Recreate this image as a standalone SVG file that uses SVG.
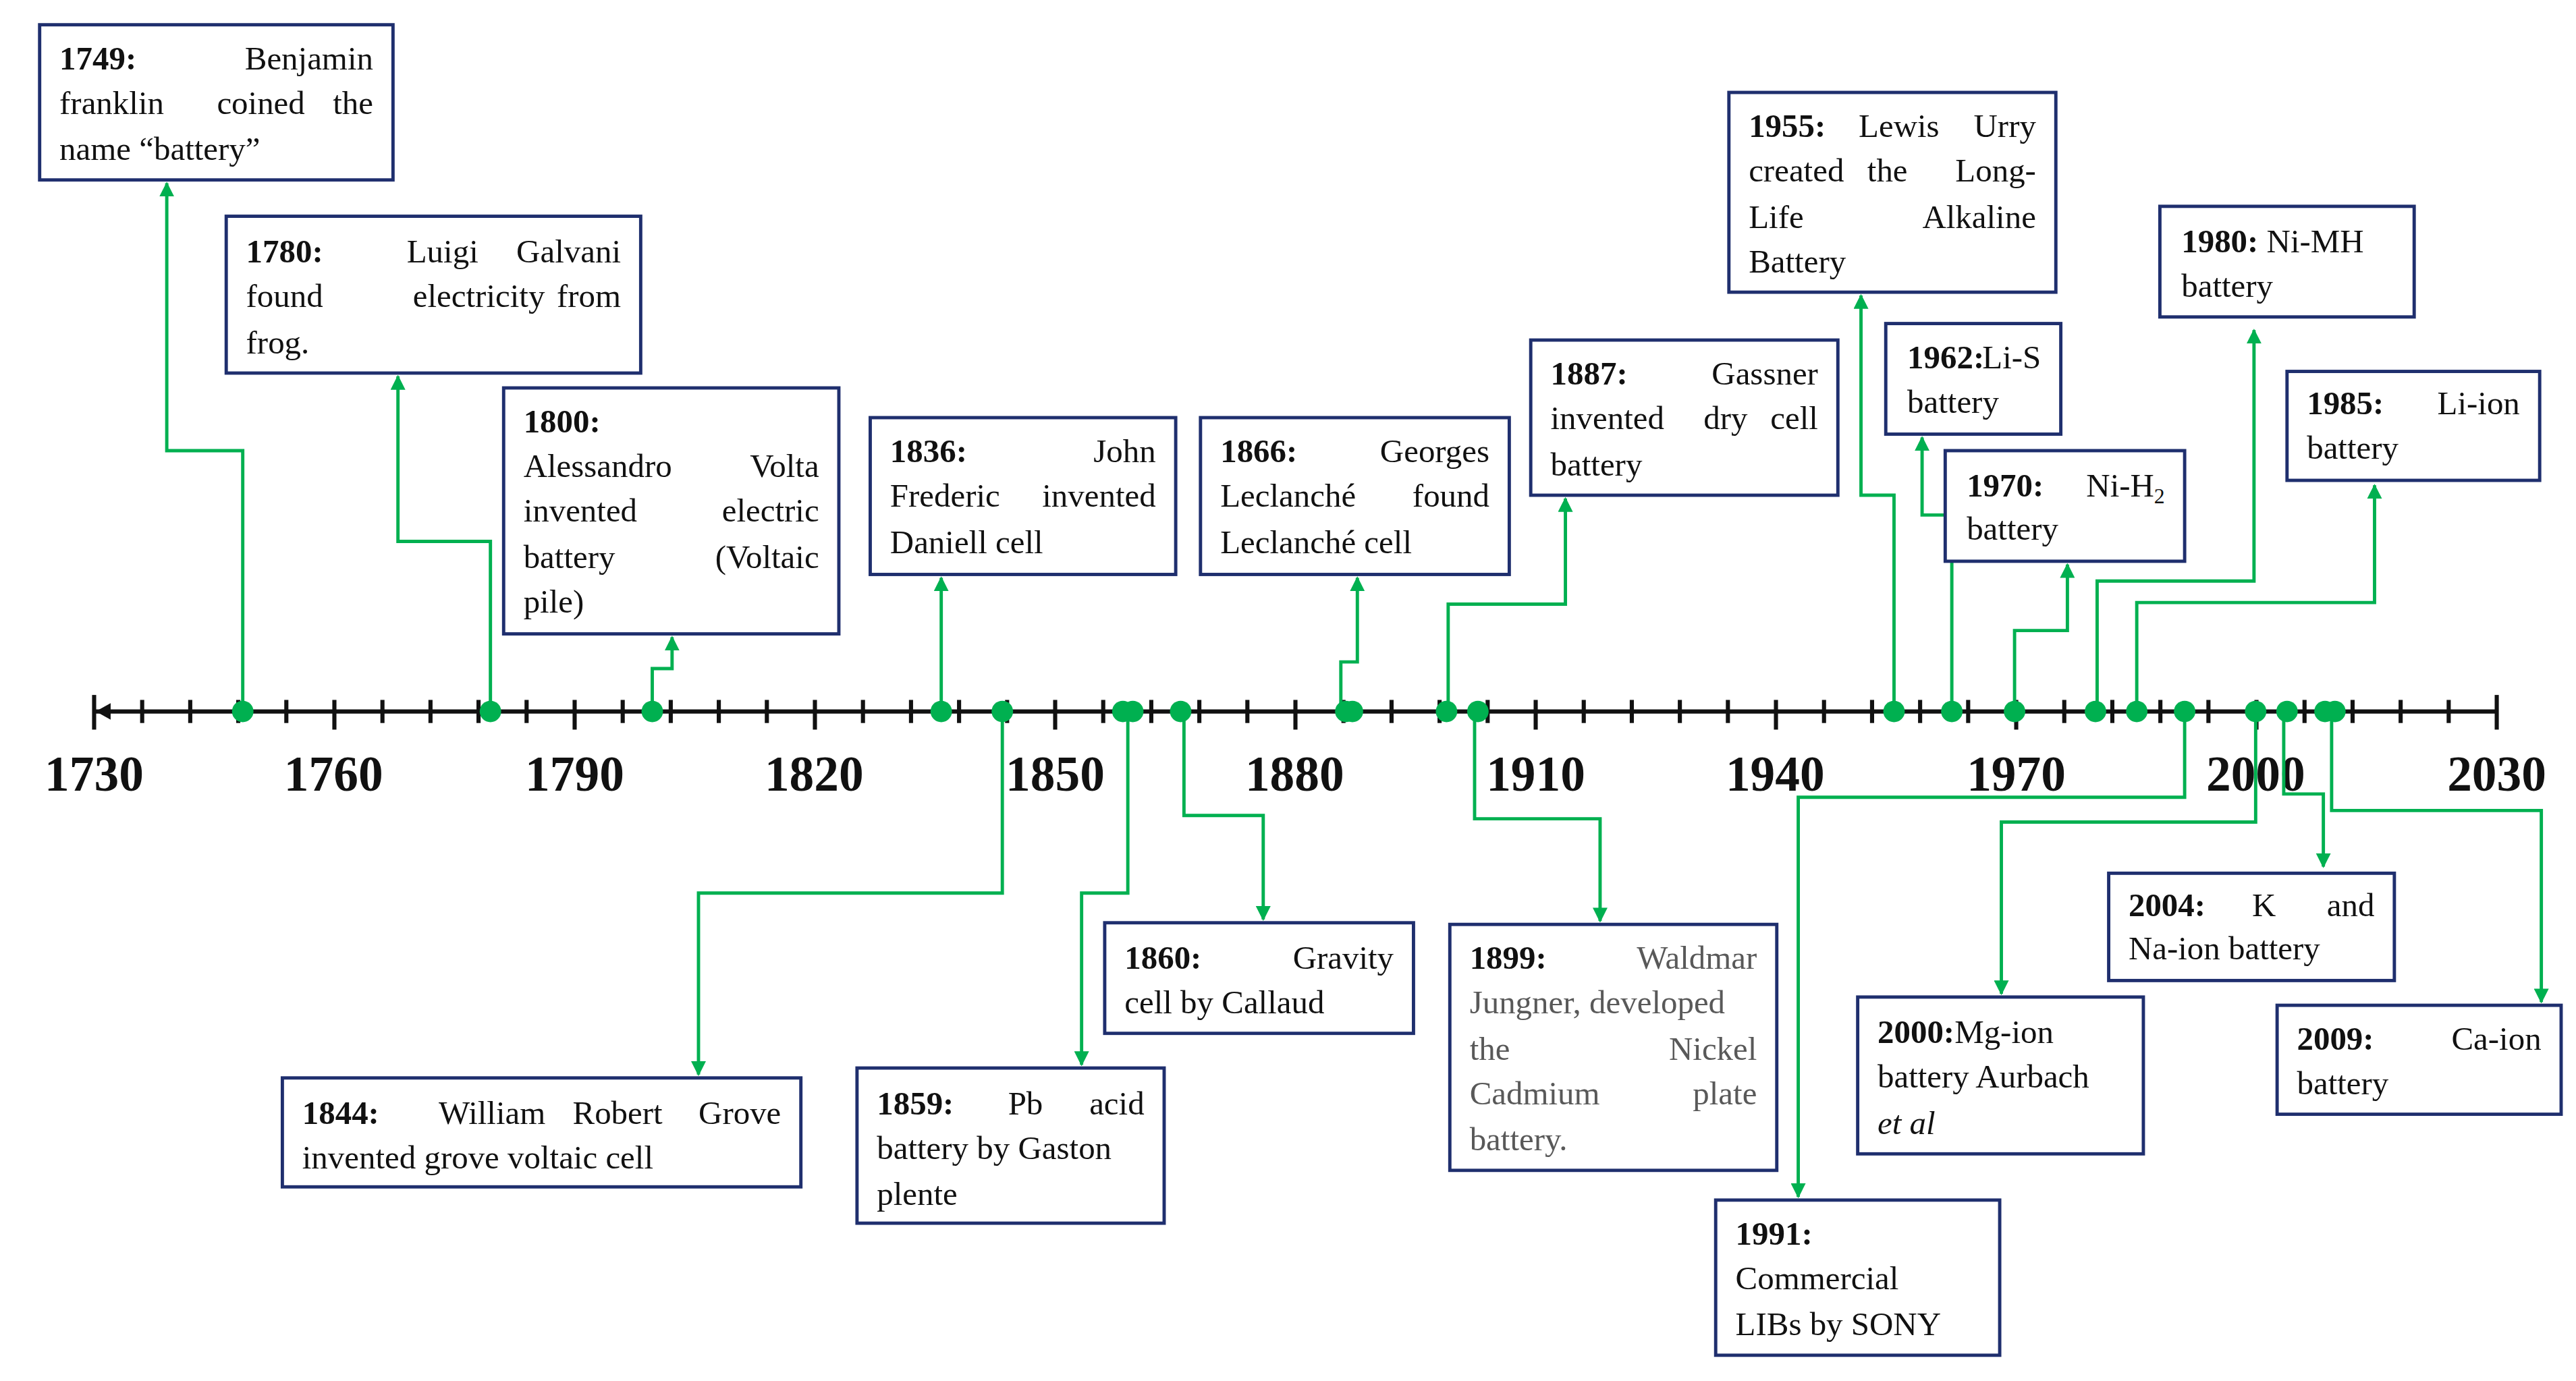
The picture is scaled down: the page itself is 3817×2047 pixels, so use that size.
<svg xmlns="http://www.w3.org/2000/svg" width="3817" height="2047" viewBox="0 0 3817 2047">
<style>
.box{fill:#fff;stroke:#1f2f6e;stroke-width:2}
text{font-family:"Liberation Serif","Times New Roman",serif;font-size:20px;fill:#111}
.b{font-weight:bold}
.e{text-anchor:end}
.m{text-anchor:middle}
.g{fill:#595959}
.yr{font-size:30px;font-weight:bold;text-anchor:middle}
.c{fill:none;stroke:#00b050;stroke-width:2;marker-end:url(#ah)}
.dot{fill:#00b050}
.tk{stroke:#111;stroke-width:2.5}
</style>
<defs>
<marker id="ah" viewBox="0 0 10 10" refX="9" refY="5" markerWidth="9" markerHeight="9" markerUnits="userSpaceOnUse" orient="auto"><path d="M0,0 L10,5 L0,10 z" fill="#00b050"/></marker>
</defs>
<rect width="3817" height="2047" fill="#fff"/>
<g transform="scale(2.4468)">
<g id="axis">
<line x1="57" y1="431" x2="1512" y2="431" class="tk" stroke-width="3"/>
<path d="M58,431 l9,-5 v10 z" fill="#111"/>
<line x1="57" y1="421" x2="57" y2="442" class="tk"/>
<line x1="1512" y1="421" x2="1512" y2="442" class="tk"/>
<g class="tk">
<line x1="86.1" y1="424" x2="86.1" y2="438"/><line x1="115.2" y1="424" x2="115.2" y2="438"/><line x1="144.3" y1="424" x2="144.3" y2="438"/><line x1="173.4" y1="424" x2="173.4" y2="438"/><line x1="202.5" y1="424" x2="202.5" y2="442"/>
<line x1="231.6" y1="424" x2="231.6" y2="438"/><line x1="260.7" y1="424" x2="260.7" y2="438"/><line x1="289.8" y1="424" x2="289.8" y2="438"/><line x1="318.9" y1="424" x2="318.9" y2="438"/><line x1="348" y1="424" x2="348" y2="442"/>
<line x1="377.1" y1="424" x2="377.1" y2="438"/><line x1="406.2" y1="424" x2="406.2" y2="438"/><line x1="435.3" y1="424" x2="435.3" y2="438"/><line x1="464.4" y1="424" x2="464.4" y2="438"/><line x1="493.5" y1="424" x2="493.5" y2="442"/>
<line x1="522.6" y1="424" x2="522.6" y2="438"/><line x1="551.7" y1="424" x2="551.7" y2="438"/><line x1="580.8" y1="424" x2="580.8" y2="438"/><line x1="609.9" y1="424" x2="609.9" y2="438"/><line x1="639" y1="424" x2="639" y2="442"/>
<line x1="668.1" y1="424" x2="668.1" y2="438"/><line x1="697.2" y1="424" x2="697.2" y2="438"/><line x1="726.3" y1="424" x2="726.3" y2="438"/><line x1="755.4" y1="424" x2="755.4" y2="438"/><line x1="784.5" y1="424" x2="784.5" y2="442"/>
<line x1="813.6" y1="424" x2="813.6" y2="438"/><line x1="842.7" y1="424" x2="842.7" y2="438"/><line x1="871.8" y1="424" x2="871.8" y2="438"/><line x1="900.9" y1="424" x2="900.9" y2="438"/><line x1="930" y1="424" x2="930" y2="442"/>
<line x1="959.1" y1="424" x2="959.1" y2="438"/><line x1="988.2" y1="424" x2="988.2" y2="438"/><line x1="1017.3" y1="424" x2="1017.3" y2="438"/><line x1="1046.4" y1="424" x2="1046.4" y2="438"/><line x1="1075.5" y1="424" x2="1075.5" y2="442"/>
<line x1="1104.6" y1="424" x2="1104.6" y2="438"/><line x1="1133.7" y1="424" x2="1133.7" y2="438"/><line x1="1162.8" y1="424" x2="1162.8" y2="438"/><line x1="1191.9" y1="424" x2="1191.9" y2="438"/><line x1="1221" y1="424" x2="1221" y2="442"/>
<line x1="1250.1" y1="424" x2="1250.1" y2="438"/><line x1="1279.2" y1="424" x2="1279.2" y2="438"/><line x1="1308.3" y1="424" x2="1308.3" y2="438"/><line x1="1337.4" y1="424" x2="1337.4" y2="438"/><line x1="1366.5" y1="424" x2="1366.5" y2="442"/>
<line x1="1395.6" y1="424" x2="1395.6" y2="438"/><line x1="1424.7" y1="424" x2="1424.7" y2="438"/><line x1="1453.8" y1="424" x2="1453.8" y2="438"/><line x1="1482.9" y1="424" x2="1482.9" y2="438"/>
</g>
<text class="yr" x="57" y="479">1730</text><text class="yr" x="202" y="479">1760</text><text class="yr" x="348" y="479">1790</text><text class="yr" x="493" y="479">1820</text><text class="yr" x="639" y="479">1850</text><text class="yr" x="784" y="479">1880</text><text class="yr" x="930" y="479">1910</text><text class="yr" x="1075" y="479">1940</text><text class="yr" x="1221" y="479">1970</text><text class="yr" x="1366" y="479">2000</text><text class="yr" x="1512" y="479">2030</text>
</g>
<g id="connectors">
<path class="c" d="M147,431 V273 H101 V111"/>
<path class="c" d="M297,431 V328 H241 V228"/>
<path class="c" d="M395,431 V405 H407 V386"/>
<path class="c" d="M570,431 V350"/>
<path class="c" d="M812,431 V401 H822 V350"/>
<path class="c" d="M877,431 V366 H948 V302"/>
<path class="c" d="M1147,431 V300 H1127 V179"/>
<path class="c" d="M1182,431 V312 H1164 V265"/>
<path class="c" d="M1220,431 V382 H1252 V342"/>
<path class="c" d="M1270,431 V352 H1365 V200"/>
<path class="c" d="M1294,431 V365 H1438 V294"/>
<path class="c" d="M607,431 V541 H423 V651"/>
<path class="c" d="M683,431 V541 H655 V645"/>
<path class="c" d="M717,431 V494 H765 V557"/>
<path class="c" d="M893,431 V496 H969 V558"/>
<path class="c" d="M1323,431 V483 H1089 V725"/>
<path class="c" d="M1366,431 V498 H1212 V602"/>
<path class="c" d="M1383,431 V481 H1407 V525"/>
<path class="c" d="M1412,431 V491 H1539 V607"/>
<g class="dot">
<circle cx="147" cy="431" r="6.5"/><circle cx="297" cy="431" r="6.5"/><circle cx="395" cy="431" r="6.5"/><circle cx="570" cy="431" r="6.5"/><circle cx="607" cy="431" r="6.5"/><circle cx="680" cy="431" r="6.5"/><circle cx="686" cy="431" r="6.5"/><circle cx="715" cy="431" r="6.5"/><circle cx="815" cy="431" r="6.5"/><circle cx="819" cy="431" r="6.5"/><circle cx="876" cy="431" r="6.5"/><circle cx="895" cy="431" r="6.5"/><circle cx="1147" cy="431" r="6.5"/><circle cx="1182" cy="431" r="6.5"/><circle cx="1220" cy="431" r="6.5"/><circle cx="1269" cy="431" r="6.5"/><circle cx="1294" cy="431" r="6.5"/><circle cx="1323" cy="431" r="6.5"/><circle cx="1366" cy="431" r="6.5"/><circle cx="1385" cy="431" r="6.5"/><circle cx="1408" cy="431" r="6.5"/><circle cx="1414" cy="431" r="6.5"/>
</g>
</g>
<g id="n1749"><rect class="box" x="24" y="15" width="214" height="94"/>
<text class="b" x="36" y="42">1749:</text><text class="e" x="226" y="42">Benjamin</text>
<text x="36" y="69">franklin</text><text class="m" x="158" y="69">coined</text><text class="e" x="226" y="69">the</text>
<text x="36" y="97">name “battery”</text></g>
<g id="n1780"><rect class="box" x="137" y="131" width="251" height="95"/>
<text class="b" x="149" y="159">1780:</text><text class="m" x="268" y="159">Luigi</text><text class="e" x="376" y="159">Galvani</text>
<text x="149" y="186">found</text><text class="m" x="290" y="186">electricity</text><text class="e" x="376" y="186">from</text>
<text x="149" y="214">frog.</text></g>
<g id="n1800"><rect class="box" x="305" y="235" width="203" height="149"/>
<text class="b" x="317" y="262">1800:</text>
<text x="317" y="289">Alessandro</text><text class="e" x="496" y="289">Volta</text>
<text x="317" y="316">invented</text><text class="e" x="496" y="316">electric</text>
<text x="317" y="344">battery</text><text class="e" x="496" y="344">(Voltaic</text>
<text x="317" y="371">pile)</text></g>
<g id="n1836"><rect class="box" x="527" y="253" width="185" height="95"/>
<text class="b" x="539" y="280">1836:</text><text class="e" x="700" y="280">John</text>
<text x="539" y="307">Frederic</text><text class="e" x="700" y="307">invented</text>
<text x="539" y="335">Daniell  cell</text></g>
<g id="n1866"><rect class="box" x="727" y="253" width="187" height="95"/>
<text class="b" x="739" y="280">1866:</text><text class="e" x="902" y="280">Georges</text>
<text x="739" y="307">Leclanché</text><text class="e" x="902" y="307">found</text>
<text x="739" y="335">Leclanché cell</text></g>
<g id="n1887"><rect class="box" x="927" y="206" width="186" height="94"/>
<text class="b" x="939" y="233">1887:</text><text class="e" x="1101" y="233">Gassner</text>
<text x="939" y="260">invented</text><text class="m" x="1045" y="260">dry</text><text class="e" x="1101" y="260">cell</text>
<text x="939" y="288">battery</text></g>
<g id="n1955"><rect class="box" x="1047" y="56" width="198" height="121"/>
<text class="b" x="1059" y="83">1955:</text><text class="m" x="1150" y="83">Lewis</text><text class="e" x="1233" y="83">Urry</text>
<text x="1059" y="110">created</text><text class="m" x="1143" y="110">the</text><text class="e" x="1233" y="110">Long-</text>
<text x="1059" y="138">Life</text><text class="e" x="1233" y="138">Alkaline</text>
<text x="1059" y="165">Battery</text></g>
<g id="n1962"><rect class="box" x="1142" y="196" width="106" height="67"/>
<text class="b" x="1155" y="223">1962:</text><text class="e" x="1236" y="223">Li-S</text>
<text x="1155" y="250">battery</text></g>
<g id="n1970"><rect class="box" x="1178" y="273" width="145" height="67"/>
<text class="b" x="1191" y="301">1970:</text><text class="e" x="1311" y="301">Ni-H<tspan font-size="13" dy="4">2</tspan></text>
<text x="1191" y="327">battery</text></g>
<g id="n1980"><rect class="box" x="1308" y="125" width="154" height="67"/>
<text x="1321" y="153"><tspan class="b">1980:</tspan> Ni-MH</text>
<text x="1321" y="180">battery</text></g>
<g id="n1985"><rect class="box" x="1385" y="225" width="153" height="66"/>
<text class="b" x="1397" y="251">1985:</text><text class="e" x="1526" y="251">Li-ion</text>
<text x="1397" y="278">battery</text></g>
<g id="n1844"><rect class="box" x="171" y="653" width="314" height="66"/>
<text class="b" x="183" y="681">1844:</text><text class="m" x="298" y="681">William</text><text class="m" x="374" y="681">Robert</text><text class="e" x="473" y="681">Grove</text>
<text x="183" y="708">invented grove voltaic cell</text></g>
<g id="n1859"><rect class="box" x="519" y="647" width="186" height="94"/>
<text class="b" x="531" y="675">1859:</text><text class="m" x="621" y="675">Pb</text><text class="e" x="693" y="675">acid</text>
<text x="531" y="702">battery by Gaston</text>
<text x="531" y="730">plente</text></g>
<g id="n1860"><rect class="box" x="669" y="559" width="187" height="67"/>
<text class="b" x="681" y="587">1860:</text><text class="e" x="844" y="587">Gravity</text>
<text x="681" y="614">cell by Callaud</text></g>
<g id="n1899"><rect class="box" x="878" y="560" width="198" height="149"/>
<text class="b" x="890" y="587">1899:</text><text class="e g" x="1064" y="587">Waldmar</text>
<text class="g" x="890" y="614">Jungner, developed</text>
<text class="g" x="890" y="642">the</text><text class="e g" x="1064" y="642">Nickel</text>
<text class="g" x="890" y="669">Cadmium</text><text class="e g" x="1064" y="669">plate</text>
<text class="g" x="890" y="697">battery.</text></g>
<g id="n1991"><rect class="box" x="1039" y="727" width="172" height="94"/>
<text class="b" x="1051" y="754">1991:</text>
<text x="1051" y="781">Commercial</text>
<text x="1051" y="809">LIBs by SONY</text></g>
<g id="n2000"><rect class="box" x="1125" y="604" width="173" height="95"/>
<text x="1137" y="632"><tspan class="b">2000:</tspan>Mg-ion</text>
<text x="1137" y="659">battery Aurbach</text>
<text x="1137" y="687" font-style="italic">et al</text></g>
<g id="n2004"><rect class="box" x="1277" y="529" width="173" height="65"/>
<text class="b" x="1289" y="555">2004:</text><text class="m" x="1371" y="555">K</text><text class="e" x="1438" y="555">and</text>
<text x="1289" y="581">Na-ion battery</text></g>
<g id="n2009"><rect class="box" x="1379" y="609" width="172" height="66"/>
<text class="b" x="1391" y="636">2009:</text><text class="e" x="1539" y="636">Ca-ion</text>
<text x="1391" y="663">battery</text></g>
</g>
</svg>
